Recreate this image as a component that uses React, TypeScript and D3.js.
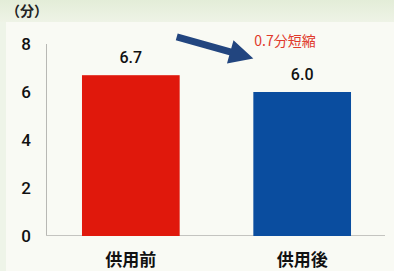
import { useEffect, useRef } from 'react';
import * as d3 from 'd3';

const categories = ['供用前', '供用後'];
const values = [6.7, 6.0];
const valueLabels = ['6.7', '6.0'];
const barColors = ['#e0180c', '#0a4d9f'];
const yTicks = [0, 2, 4, 6, 8];
const unitLabel = '（分）';
const noteLabel = '0.7分短縮';

const W = 394;
const H = 271;

const App = () => {
  const svgRef = useRef<SVGSVGElement>(null);

  useEffect(() => {
    const svg = d3.select(svgRef.current);
    svg.selectAll('*').remove();

    const jp = '"Noto Sans CJK JP", "Noto Sans", sans-serif';
    const num = 'Roboto, "Liberation Sans", Arial, sans-serif';

    // background
    const defs = svg.append('defs');
    const grad = defs.append('linearGradient').attr('id', 'bg').attr('x1', 0).attr('y1', 0).attr('x2', 0).attr('y2', 1);
    grad.append('stop').attr('offset', '0%').attr('stop-color', '#e3edd8');
    grad.append('stop').attr('offset', '100%').attr('stop-color', '#eef3e6');
    svg.append('rect').attr('width', W).attr('height', H).attr('fill', '#f9faf4');
    svg.append('rect').attr('width', W).attr('height', 22).attr('fill', 'url(#bg)');
    svg.append('rect').attr('y', 22).attr('width', 6).attr('height', H - 22).attr('fill', '#eef4e8');

    const x = d3.scaleBand<string>()
      .domain(categories)
      .range([46, 387])
      .paddingInner(0.43)
      .paddingOuter(0.21);

    const y = d3.scaleLinear().domain([0, 8]).range([236, 44]);

    // axes lines
    svg.append('line')
      .attr('x1', 46.5).attr('x2', 46.5)
      .attr('y1', y(8)).attr('y2', y(0))
      .attr('stroke', '#b8b8b4').attr('stroke-width', 1);
    svg.append('line')
      .attr('x1', 46).attr('x2', 385)
      .attr('y1', y(0) - 0.5).attr('y2', y(0) - 0.5)
      .attr('stroke', '#c4c4c0').attr('stroke-width', 1.2);

    // y tick labels
    svg.append('g')
      .selectAll('text')
      .data(yTicks)
      .join('text')
      .attr('x', 31)
      .attr('y', d => y(d))
      .attr('dy', '0.36em')
      .attr('text-anchor', 'end')
      .attr('font-family', num)
      .attr('font-weight', 500)
      .attr('font-size', 17)
      .attr('fill', '#111')
      .text(d => d);

    // bars
    svg.append('g')
      .selectAll('rect')
      .data(values)
      .join('rect')
      .attr('x', (d, i) => x(categories[i])!)
      .attr('width', x.bandwidth())
      .attr('y', d => y(d))
      .attr('height', d => y(0) - y(d))
      .attr('fill', (d, i) => barColors[i]);

    // value labels
    svg.append('g')
      .selectAll('text')
      .data(values)
      .join('text')
      .attr('x', (d, i) => x(categories[i])! + x.bandwidth() / 2)
      .attr('y', d => y(d) - 12)
      .attr('text-anchor', 'middle')
      .attr('font-family', num)
      .attr('font-weight', 500)
      .attr('font-size', 16)
      .attr('fill', '#111')
      .text((d, i) => valueLabels[i]);

    // category labels
    svg.append('g')
      .selectAll('text')
      .data(categories)
      .join('text')
      .attr('x', d => x(d)! + x.bandwidth() / 2)
      .attr('y', 266)
      .attr('text-anchor', 'middle')
      .attr('font-family', jp)
      .attr('font-weight', 700)
      .attr('font-size', 17)
      .attr('fill', '#111')
      .text(d => d);

    // unit label
    svg.append('text')
      .attr('x', 6)
      .attr('y', 16)
      .attr('font-family', jp)
      .attr('font-weight', 700)
      .attr('font-size', 14)
      .attr('fill', '#222')
      .text(unitLabel);

    // arrow between bars
    const x0 = x(categories[0])! + x.bandwidth() * 0.97;
    const y0 = y(8.3);
    const x1 = x(categories[1])!;
    const y1 = y(7.4);
    const ang = Math.atan2(y1 - y0, x1 - x0);
    const len = Math.hypot(x1 - x0, y1 - y0);
    const headLen = 24;
    const shaft = 3.5;
    const head = 12;
    const pts: [number, number][] = [
      [0, -shaft], [len - headLen, -shaft], [len - headLen, -head],
      [len, 0], [len - headLen, head], [len - headLen, shaft], [0, shaft],
    ];
    svg.append('polygon')
      .attr('points', pts.map(p => p.join(',')).join(' '))
      .attr('transform', `translate(${x0},${y0}) rotate(${(ang * 180) / Math.PI})`)
      .attr('fill', '#22457f');

    // note
    svg.append('text')
      .attr('x', x1 + 1)
      .attr('y', 46)
      .attr('font-family', jp)
      .attr('font-size', 14)
      .attr('fill', '#e0392b')
      .text(noteLabel);
  }, []);

  return (
    <div style={{ position: 'absolute', left: 0, top: 0 }}>
      <svg ref={svgRef} width={W} height={H} style={{ display: 'block' }}></svg>
    </div>
  );
};

export default App;
